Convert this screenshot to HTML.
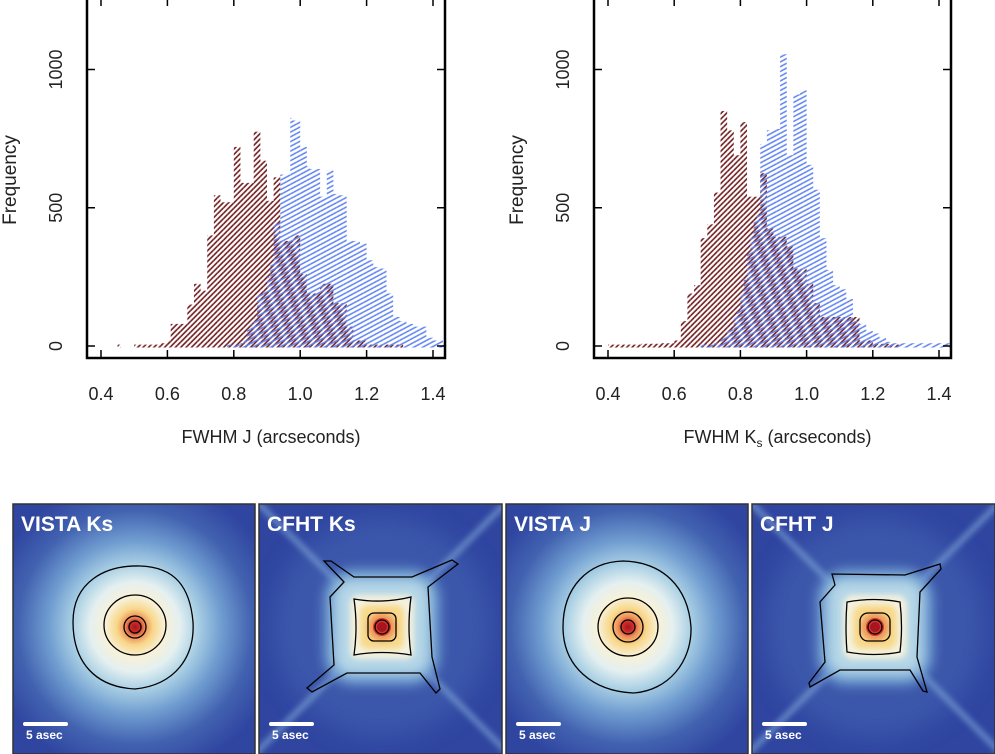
<!DOCTYPE html>
<html><head><meta charset="utf-8"><style>
html,body{margin:0;padding:0;background:#fff;}
body{width:995px;height:754px;overflow:hidden;position:relative;font-family:"Liberation Sans",sans-serif;}
svg{position:absolute;left:0;top:0;}
</style></head><body>
<svg id="charts" width="995" height="470" viewBox="0 0 995 470">
<defs>
<pattern id="hatchRed" patternUnits="userSpaceOnUse" width="3.8" height="3.8" patternTransform="rotate(-45)">
<line x1="0" y1="1" x2="3.8" y2="1" stroke="#6e1a1c" stroke-width="1.6"/></pattern>
<pattern id="hatchBlue" patternUnits="userSpaceOnUse" width="4.2" height="4.2" patternTransform="rotate(-28)">
<line x1="0" y1="1" x2="4.2" y2="1" stroke="#5b80f2" stroke-width="1.5"/></pattern>
</defs>
<g id="plotJ"></g>
<g id="plotK"></g>
</svg>

<svg width="995" height="754" viewBox="0 0 995 754" style="top:0">
<defs>
<radialGradient id="vistaGrad" cx="122" cy="123" r="150" gradientUnits="userSpaceOnUse">
<stop offset="0" stop-color="#a8141f"/><stop offset="0.035" stop-color="#cc2e2a"/>
<stop offset="0.065" stop-color="#ec8a55"/><stop offset="0.12" stop-color="#f8d688"/>
<stop offset="0.2" stop-color="#f8f1d8"/><stop offset="0.3" stop-color="#e4f0f0"/>
<stop offset="0.42" stop-color="#a9cfe4"/>
<stop offset="0.58" stop-color="#6f9cd0"/><stop offset="0.78" stop-color="#4262b0"/>
<stop offset="1" stop-color="#2f45a0"/></radialGradient>
<filter id="blur6" x="-50%" y="-50%" width="200%" height="200%"><feGaussianBlur stdDeviation="6"/></filter>
<filter id="blur3" x="-50%" y="-50%" width="200%" height="200%"><feGaussianBlur stdDeviation="3"/></filter>
<filter id="blur12" x="-50%" y="-50%" width="200%" height="200%"><feGaussianBlur stdDeviation="12"/></filter>
<clipPath id="clipPanel"><rect x="0" y="0" width="243" height="250"/></clipPath>
</defs>

<!-- Panel 1 VISTA Ks -->
<g transform="translate(13,504)">
<g clip-path="url(#clipPanel)">
<rect width="242" height="250" fill="#2f45a0"/>
<rect width="242" height="250" fill="url(#vistaGrad)"/>
<g transform="translate(122,123)" fill="none" stroke="#000" stroke-width="1.3">
<path d="M -62,-5 C -62,-45 -30,-62 5,-61 C 40,-60 55,-40 58,-5 C 60,30 40,58 0,62 C -40,60 -62,35 -62,-5 Z"/>
<ellipse cx="0" cy="-2" rx="31" ry="30"/>
<circle r="11"/><circle r="6"/>
</g></g>
<text x="8" y="27" fill="#fff" font-size="21" font-weight="bold">VISTA Ks</text>
<rect x="10" y="218" width="45" height="4" rx="2" fill="#fff"/>
<text x="13" y="235" fill="#fff" font-size="12" font-weight="bold">5 asec</text>
<rect x="0" y="0" width="242" height="250" fill="none" stroke="#333" stroke-width="1.5"/>
</g>

<!-- Panel 2 CFHT Ks -->
<g transform="translate(259,504)">
<g clip-path="url(#clipPanel)">
<rect width="243" height="250" fill="#2f45a0"/>
<g transform="translate(123,123)">
<circle r="110" fill="#3a56aa" filter="url(#blur12)"/>
<g stroke="#86aedb" stroke-width="6" opacity="0.6" filter="url(#blur3)">
<line x1="-130" y1="-130" x2="130" y2="130"/><line x1="-130" y1="130" x2="130" y2="-130"/></g>
<rect x="-58" y="-58" width="116" height="116" rx="30" fill="#6e9ed0" filter="url(#blur6)"/>
<rect x="-48" y="-48" width="96" height="96" rx="18" fill="#b6d7e7" filter="url(#blur6)"/>
<rect x="-32" y="-32" width="64" height="64" rx="8" fill="#f4f1de" filter="url(#blur3)"/>
<rect x="-22" y="-22" width="44" height="44" rx="8" fill="#f8d98b" filter="url(#blur3)"/>
<circle r="14" fill="#ec9459" filter="url(#blur3)"/>
<circle r="9" fill="#d2392c"/><circle r="5" fill="#a8141f"/>
<g fill="none" stroke="#000" stroke-width="1.3">
<path d="M -38,-45 L -58,-66 L -51,-66 L -28,-50 L 30,-50 L 70,-67 L 76,-63 L 46,-40 L 50,30 L 58,62 L 54,66 L 38,46 L -35,46 L -70,65 L -75,61 L -48,38 L -52,-30 Z"/>
<path d="M -28,-28 Q 0,-23 29,-30 Q 25,0 29,28 Q 0,23 -28,28 Q -24,0 -28,-28 Z"/>
<rect x="-14" y="-14" width="28" height="28" rx="6"/><circle r="7"/>
</g></g></g>
<text x="8" y="27" fill="#fff" font-size="21" font-weight="bold">CFHT Ks</text>
<rect x="10" y="218" width="45" height="4" rx="2" fill="#fff"/>
<text x="13" y="235" fill="#fff" font-size="12" font-weight="bold">5 asec</text>
<rect x="0" y="0" width="243" height="250" fill="none" stroke="#333" stroke-width="1.5"/>
</g>

<!-- Panel 3 VISTA J -->
<g transform="translate(506,504)">
<g clip-path="url(#clipPanel)">
<rect width="242" height="250" fill="#2f45a0"/>
<rect width="242" height="250" fill="url(#vistaGrad)"/>
<g transform="translate(122,123)" fill="none" stroke="#000" stroke-width="1.3">
<path d="M -65,0 C -65,-40 -40,-65 -5,-66 C 35,-65 60,-40 63,0 C 64,35 40,64 5,66 C -35,64 -65,40 -65,0 Z"/>
<ellipse cx="0" cy="0" rx="30" ry="29"/>
<circle r="15"/><circle r="7"/>
</g></g>
<text x="8" y="27" fill="#fff" font-size="21" font-weight="bold">VISTA J</text>
<rect x="10" y="218" width="45" height="4" rx="2" fill="#fff"/>
<text x="13" y="235" fill="#fff" font-size="12" font-weight="bold">5 asec</text>
<rect x="0" y="0" width="242" height="250" fill="none" stroke="#333" stroke-width="1.5"/>
</g>

<!-- Panel 4 CFHT J -->
<g transform="translate(752,504)">
<g clip-path="url(#clipPanel)">
<rect width="243" height="250" fill="#2f45a0"/>
<g transform="translate(123,123)">
<circle r="110" fill="#3a56aa" filter="url(#blur12)"/>
<g stroke="#86aedb" stroke-width="6" opacity="0.6" filter="url(#blur3)">
<line x1="-130" y1="-130" x2="130" y2="130"/><line x1="-130" y1="130" x2="130" y2="-130"/></g>
<rect x="-58" y="-58" width="116" height="116" rx="30" fill="#6e9ed0" filter="url(#blur6)"/>
<rect x="-48" y="-48" width="96" height="96" rx="18" fill="#b6d7e7" filter="url(#blur6)"/>
<rect x="-32" y="-32" width="64" height="64" rx="10" fill="#f4f1de" filter="url(#blur3)"/>
<rect x="-22" y="-22" width="44" height="44" rx="10" fill="#f8d98b" filter="url(#blur3)"/>
<circle r="14" fill="#ec9459" filter="url(#blur3)"/>
<circle r="9" fill="#d2392c"/><circle r="5" fill="#a8141f"/>
<g fill="none" stroke="#000" stroke-width="1.3">
<path d="M -40,-42 L -43,-53 L 30,-52 L 65,-63 L 66,-58 L 45,-35 L 42,30 L 52,65 L 48,64 L 35,43 L -35,43 L -65,60 L -66,56 L -50,35 L -55,-25 Z"/>
<path d="M -28,-25 Q 0,-30 25,-25 Q 28,0 25,25 Q 0,30 -28,25 Q -30,0 -28,-25 Z"/>
<rect x="-15" y="-14" width="30" height="28" rx="8"/><circle r="7"/>
</g></g></g>
<text x="8" y="27" fill="#fff" font-size="21" font-weight="bold">CFHT J</text>
<rect x="10" y="218" width="45" height="4" rx="2" fill="#fff"/>
<text x="13" y="235" fill="#fff" font-size="12" font-weight="bold">5 asec</text>
<rect x="0" y="0" width="243" height="250" fill="none" stroke="#333" stroke-width="1.5"/>
</g>
</svg>

<script>
const binStart = 0.40;
const binWidth = 0.01;
const xTicks = [0.4, 0.6, 0.8, 1.0, 1.2, 1.4];
const xTickLabels = ["0.4", "0.6", "0.8", "1.0", "1.2", "1.4"];
const yTicks = [0, 500, 1000];
const yTickLabels = ["0", "500", "1000"];
const redJ = [0,0,0,0,0,5,0,0,0,0, 5,5,5,5,5,5,5,5,10,10, 20,80,80,80,80,80,150,150,225,225,
 200,200,400,400,545,545,520,520,520,520, 720,720,590,590,590,590,775,775,670,670,
 525,525,610,610,380,380,380,380,400,400, 260,260,190,190,190,190,225,225,225,225,
 155,155,155,155,70,70,20,20,20,20, 5,5,5,5,5,5,5,5,5,5, 5,0,0,0,0,0,0,0,0,0, 0,0,0,0,0];
const blueJ = [0,0,0,0,0,0,0,0,0,0, 0,0,0,0,0,0,0,0,0,0, 0,0,0,0,0,0,0,0,0,0,
 0,0,0,0,0,0,0,0,5,5, 5,5,10,20,60,80,100,190,190,200,
 250,300,450,450,620,620,620,825,815,815, 720,720,650,640,640,640,540,540,635,635,
 550,550,545,545,380,380,380,380,370,370, 310,310,285,285,280,280,190,190,105,105,
 90,90,80,80,70,70,70,70,30,30, 20,20,20,10,5];
const redK = [5,5,5,5,5,5,5,5,5,5, 8,8,8,8,8,8,10,10,10,10, 20,20,90,90,190,190,220,220,390,390,
 440,440,555,555,850,850,780,780,690,690, 810,810,540,540,540,540,625,625,425,425,
 395,395,395,395,360,360,280,280,280,280, 225,225,155,155,105,105,105,105,105,105,
 105,105,105,105,105,105,20,20,20,20, 8,8,8,8,8,8,5,5,0,0, 0,0,0,0,0,0,0,0,0,0, 0,0,0,0,0];
const blueK = [0,0,0,0,0,0,0,0,0,0, 0,0,0,0,0,0,0,0,0,0, 0,0,0,0,0,0,0,0,5,5,
 5,5,10,10,30,40,60,60,105,130, 190,240,335,400,455,480,730,730,780,780,
 785,785,1055,1055,690,690,910,910,925,925, 655,655,565,565,390,390,275,275,220,220,
 205,205,170,170,90,90,80,80,55,55, 45,45,30,30,15,15,10,10,10,10,
 10,10,10,10,10,10,10,10,10,10, 10,10,10,10,10];

const NS = "http://www.w3.org/2000/svg";
function mk(tag, attrs, parent) {
  const e = document.createElementNS(NS, tag);
  for (const k in attrs) e.setAttribute(k, attrs[k]);
  parent.appendChild(e);
  return e;
}
function drawPlot(g, left, right, red, blue, title) {
  const x0 = left + 14, x1 = right - 12;
  const xs = v => x0 + (v - 0.4) / 1.0 * (x1 - x0);
  const ys = v => 346 - v * 0.2765;
  const bottom = 358;
  [[red, "url(#hatchRed)", "red"], [blue, "url(#hatchBlue)", "blue"]].forEach(([arr, fill, nm]) => {
    arr.forEach((v, i) => {
      if (v <= 0) return;
      const a = binStart + i * binWidth;
      let xa = xs(a), xb = xs(a + binWidth);
      if (xb > right) xb = right;
      if (xa >= right) return;
      const r = mk("rect", {x: xa, y: ys(v), width: xb - xa, height: ys(0) - ys(v) + 1.5, fill: fill}, g);
      
      
    });
  });
  const frame = mk("rect", {x: left, y: -2, width: right - left, height: bottom + 2, fill: "none", stroke: "#000", "stroke-width": 2.5}, g);
  
  
  xTicks.forEach((t, i) => {
    const x = xs(t);
    mk("line", {x1: x, y1: bottom, x2: x, y2: bottom - 8, stroke: "#000", "stroke-width": 1.5}, g);
    mk("line", {x1: x, y1: 0, x2: x, y2: 6, stroke: "#000", "stroke-width": 1.5}, g);
    const tx = mk("text", {x: x, y: 400, "text-anchor": "middle", "font-size": 18, fill: "#222"}, g);
    tx.textContent = xTickLabels[i];
    
    
  });
  yTicks.forEach((t, i) => {
    const y = ys(t);
    mk("line", {x1: left, y1: y, x2: left + 8, y2: y, stroke: "#000", "stroke-width": 1.5}, g);
    mk("line", {x1: right, y1: y, x2: right - 8, y2: y, stroke: "#000", "stroke-width": 1.5}, g);
    const tx = mk("text", {x: left - 25, y: y, "text-anchor": "middle", "font-size": 18, fill: "#222", transform: `rotate(-90 ${left - 25} ${y})`}, g);
    tx.textContent = yTickLabels[i];
    
    
  });
  const yt = mk("text", {x: left - 71, y: 180, "text-anchor": "middle", "font-size": 19, fill: "#222", transform: `rotate(-90 ${left - 71} 180)`}, g);
  yt.textContent = "Frequency";
  
  
  const xt = mk("text", {x: (left + right) / 2 + 5, y: 443, "text-anchor": "middle", "font-size": 18, fill: "#222"}, g);
  xt.innerHTML = title;
  
  
}
drawPlot(document.getElementById("plotJ"), 87, 445, redJ, blueJ, "FWHM J (arcseconds)");
drawPlot(document.getElementById("plotK"), 594, 951, redK, blueK, 'FWHM K<tspan font-size="12" dy="4">s</tspan><tspan dy="-4"> (arcseconds)</tspan>');
</script>
</body></html>
